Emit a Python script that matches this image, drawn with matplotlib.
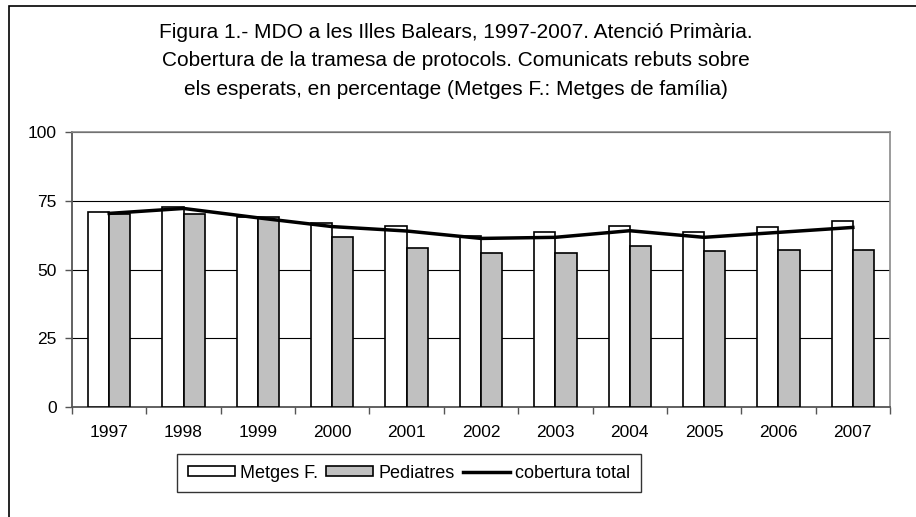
import numpy as np
import matplotlib.pyplot as plt
from matplotlib.patches import Rectangle, Patch
from matplotlib.lines import Line2D

plt.rcParams['font.family'] = ['Liberation Sans', 'DejaVu Sans']

years = ['1997', '1998', '1999', '2000', '2001', '2002', '2003', '2004', '2005', '2006', '2007']
metges = [71.0, 72.6, 69.2, 67.0, 65.8, 62.3, 63.5, 65.9, 63.5, 65.3, 67.7]
pediatres = [70.2, 70.3, 69.1, 61.8, 57.8, 56.1, 56.1, 58.4, 56.7, 57.2, 57.2]
cobertura = [70.4, 72.2, 68.8, 65.6, 64.0, 61.3, 61.7, 64.1, 61.7, 63.5, 65.3]

title = ("Figura 1.- MDO a les Illes Balears, 1997-2007. Atenció Primària.\n"
         "Cobertura de la tramesa de protocols. Comunicats rebuts sobre\n"
         "els esperats, en percentage (Metges F.: Metges de família)")

fig = plt.figure(figsize=(9.16, 5.17), dpi=100)
ax = fig.add_axes([72/916, 1 - 407/517, (890 - 72)/916, (407 - 132)/517])

x = np.arange(len(years))
w = 0.285
ax.bar(x - w/2, metges, w, color='white', edgecolor='black', linewidth=1.2, zorder=3)
ax.bar(x + w/2, pediatres, w, color='#c0c0c0', edgecolor='black', linewidth=1.2, zorder=3)
ax.plot(x, cobertura, color='black', linewidth=2.5, zorder=4)

ax.set_xlim(-0.5, len(years) - 0.5)
ax.set_ylim(0, 100)
ax.set_yticks([0, 25, 50, 75, 100])
ax.yaxis.grid(True, color='black', linewidth=0.8, zorder=0)
ax.set_axisbelow(True)

ax.set_xticks(x)
ax.set_xticklabels(years)
ax.set_xticks(np.arange(-0.5, len(years)), minor=True)
ax.tick_params(axis='x', which='major', length=0, pad=13, labelsize=12.5)
ax.tick_params(axis='x', which='minor', length=5, width=1, color='#555555')
ax.tick_params(axis='y', length=5, width=1, color='#555555', labelsize=12.5, pad=6)

for s in ['left', 'bottom']:
    ax.spines[s].set_color('#555555')
    ax.spines[s].set_linewidth(1.3)
for s in ['top', 'right']:
    ax.spines[s].set_color('#8a8a8a')
    ax.spines[s].set_linewidth(1.2)

fig.text(456/916, 1 - 61/517, title, ha='center', va='center', fontsize=15,
         linespacing=1.65)

handles = [Patch(facecolor='white', edgecolor='black', linewidth=1.2),
           Patch(facecolor='#c0c0c0', edgecolor='black', linewidth=1.2),
           Line2D([0], [0], color='black', linewidth=2.5)]
leg = fig.legend(handles, ['Metges F.', 'Pediatres', 'cobertura total'],
                 loc='center', bbox_to_anchor=(409/916, 1 - 473/517), ncol=3,
                 fontsize=13, frameon=True, fancybox=False, edgecolor='black',
                 handlelength=2.6, handleheight=0.4, handletextpad=0.3,
                 columnspacing=0.45, borderpad=0.6)
leg.get_frame().set_linewidth(1.0)

fig.patches.append(Rectangle((9/916, -0.1), 1.2, 1.1 - 6/517, transform=fig.transFigure,
                             fill=False, edgecolor='black', linewidth=1.2))

fig.savefig('out.png', dpi=100)
